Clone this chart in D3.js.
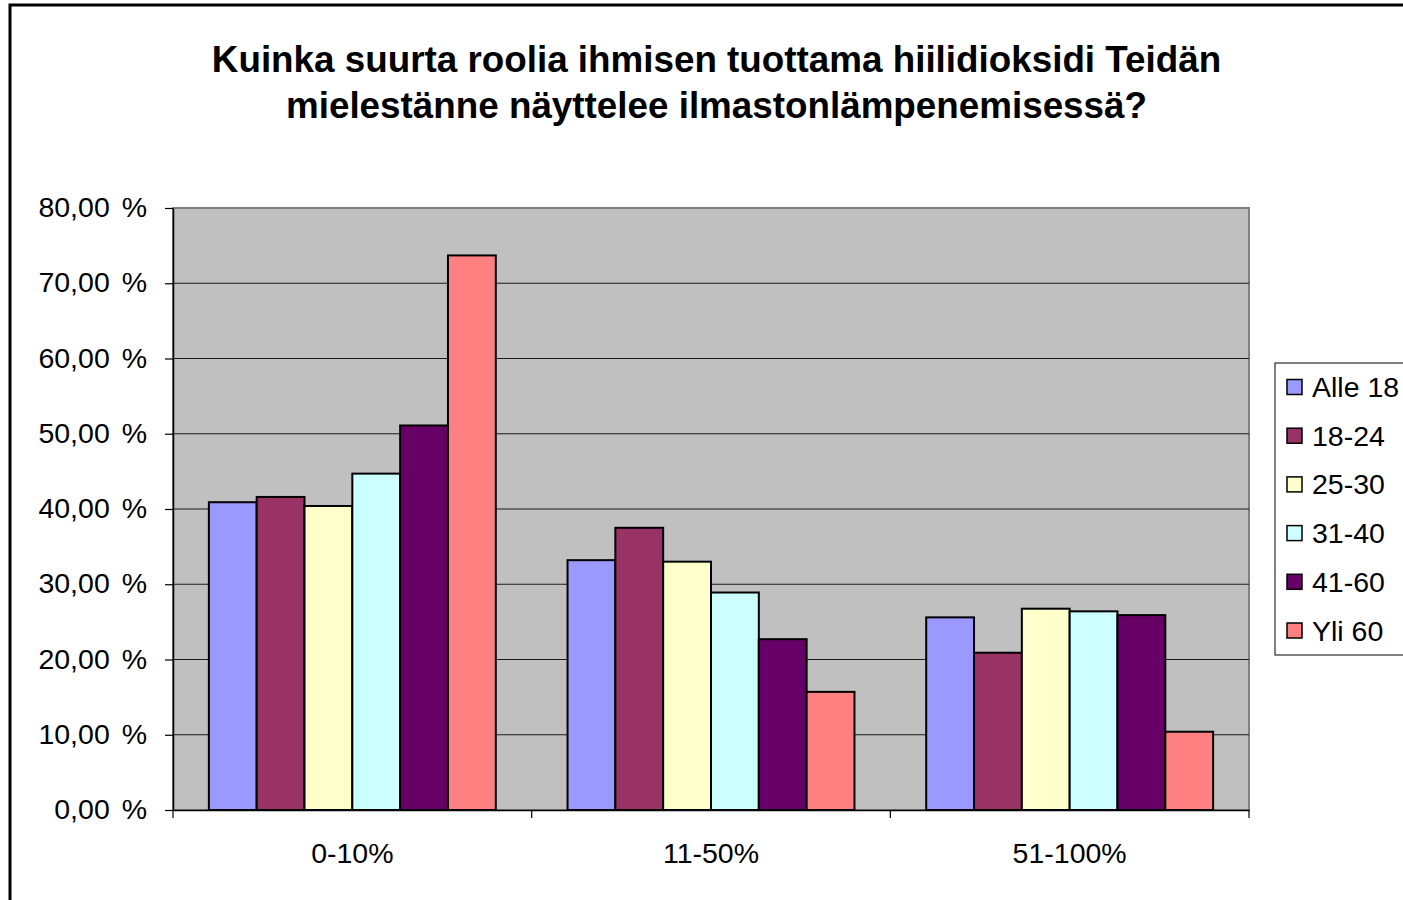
<!DOCTYPE html>
<html><head><meta charset="utf-8">
<script src="https://cdn.jsdelivr.net/npm/d3@7"></script>
<style>body{margin:0;background:#fff;overflow:hidden}svg{display:block}</style>
</head><body>
<svg id="c" width="1403" height="900"></svg>
<script>
const categories = ["0-10%", "11-50%", "51-100%"];
const seriesNames = ["Alle 18", "18-24", "25-30", "31-40", "41-60", "Yli 60"];
const seriesColors = ["#9999FF", "#993366", "#FFFFCC", "#CCFFFF", "#660066", "#FF8080"];
const alle18 = [40.9, 33.2, 25.6];
const v18_24 = [41.6, 37.5, 20.9];
const v25_30 = [40.4, 33.0, 26.75];
const v31_40 = [44.7, 28.9, 26.4];
const v41_60 = [51.1, 22.7, 25.9];
const yli60  = [73.7, 15.7, 10.4];
const yTicks = [0, 10, 20, 30, 40, 50, 60, 70, 80];
const titleLines = ["Kuinka suurta roolia ihmisen tuottama hiilidioksidi Teidän", "mielestänne näyttelee ilmastonlämpenemisessä?"];

const seriesValues = [alle18, v18_24, v25_30, v31_40, v41_60, yli60];
const font = "Liberation Sans, Arial, sans-serif";
const svg = d3.select("#c");

// outer chart border
svg.append("rect").attr("x", 10).attr("y", 5).attr("width", 1600).attr("height", 1200)
  .attr("fill", "#fff").attr("stroke", "#000").attr("stroke-width", 3);

// title
svg.append("text").attr("x", 716.5).attr("y", 72).attr("text-anchor", "middle")
  .attr("font-family", font).attr("font-weight", "bold").attr("font-size", 36.8).text(titleLines[0]);
svg.append("text").attr("x", 716.5).attr("y", 118).attr("text-anchor", "middle")
  .attr("font-family", font).attr("font-weight", "bold").attr("font-size", 36.8).text(titleLines[1]);

const L = 173, R = 1249, T = 208, B = 810;
const x0 = d3.scaleBand().domain(categories).range([L, R]).paddingInner(0).paddingOuter(0);
const gapRatio = 1.5; // Excel gap width 150%
const barW = x0.bandwidth() / (seriesNames.length + gapRatio);
const x1 = d3.scaleBand().domain(seriesNames).range([barW * gapRatio / 2, barW * gapRatio / 2 + barW * seriesNames.length]).padding(0);
const y = d3.scaleLinear().domain([0, 80]).range([B, T]);

// plot area
svg.append("rect").attr("x", L).attr("y", T).attr("width", R - L).attr("height", B - T)
  .attr("fill", "#C0C0C0").attr("stroke", "#808080").attr("stroke-width", 2);

// gridlines
svg.append("g").selectAll("line").data(yTicks.filter(d => d > 0 && d < 80)).join("line")
  .attr("x1", L).attr("x2", R).attr("y1", d => y(d)).attr("y2", d => y(d))
  .attr("stroke", "#1a1a1a").attr("stroke-width", 1.2);

// bars
const g = svg.append("g");
categories.forEach((c, ci) => {
  seriesNames.forEach((s, si) => {
    const v = seriesValues[si][ci];
    g.append("rect")
      .attr("x", x0(c) + x1(s)).attr("y", y(v))
      .attr("width", x1.bandwidth()).attr("height", y(0) - y(v))
      .attr("fill", seriesColors[si]).attr("stroke", "#000").attr("stroke-width", 2);
  });
});

// y axis
const yAxis = d3.axisLeft(y).tickValues(yTicks).tickSize(8).tickSizeOuter(0)
  .tickFormat(d => d3.format(".2f")(d).replace(".", ",") + " %");
const ya = svg.append("g").attr("transform", `translate(${L},0)`).call(yAxis);
ya.select(".domain").attr("stroke", "#000").attr("stroke-width", 1.5);
ya.selectAll(".tick line").attr("stroke", "#000").attr("stroke-width", 1.2);
ya.selectAll(".tick text").attr("x", -26).attr("dy", "0.3em").attr("font-family", font)
  .attr("font-size", 28.5).attr("word-spacing", 4).attr("fill", "#000");

// x axis
const xa = svg.append("g").attr("transform", `translate(0,${B})`)
  .call(d3.axisBottom(x0).tickSize(0).tickSizeOuter(0));
xa.select(".domain").attr("stroke", "#000").attr("stroke-width", 1.5);
xa.selectAll(".tick text").attr("y", 53).attr("dy", 0).attr("font-family", font)
  .attr("font-size", 28.5).attr("fill", "#000");
const bounds = [L].concat(categories.map(c => x0(c) + x0.bandwidth()));
svg.append("g").selectAll("line").data(bounds).join("line")
  .attr("x1", d => d).attr("x2", d => d).attr("y1", B).attr("y2", B + 8)
  .attr("stroke", "#000").attr("stroke-width", 1.2);

// legend
const lg = svg.append("g");
lg.append("rect").attr("x", 1275).attr("y", 363).attr("width", 200).attr("height", 292)
  .attr("fill", "#fff").attr("stroke", "#000").attr("stroke-width", 1);
seriesNames.forEach((s, i) => {
  const cy = 387 + i * 48.7;
  lg.append("rect").attr("x", 1287).attr("y", cy - 7.5).attr("width", 15).attr("height", 15)
    .attr("fill", seriesColors[i]).attr("stroke", "#000").attr("stroke-width", 1.5);
  lg.append("text").attr("x", 1312).attr("y", cy + 10).attr("font-family", font)
    .attr("font-size", 28.5).attr("fill", "#000").text(s);
});
</script>
</body></html>
